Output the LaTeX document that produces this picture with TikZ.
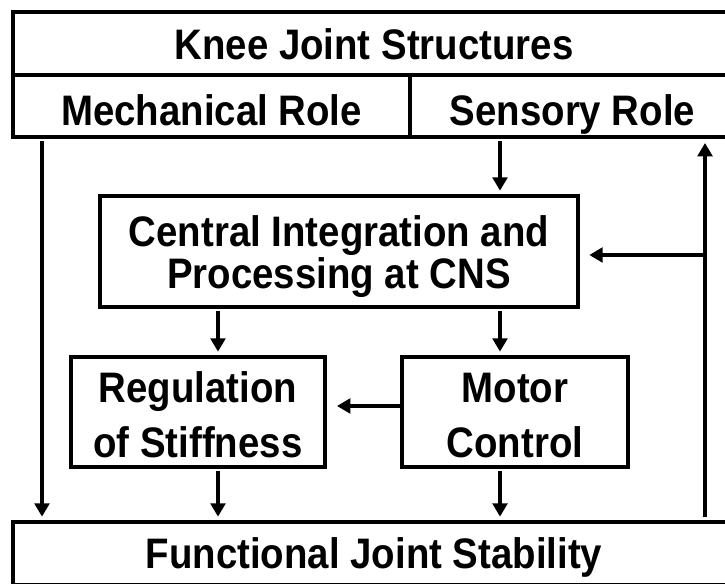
\documentclass[tikz,border=0pt]{standalone}
\usepackage{fontspec}
\setmainfont[FakeStretch=0.9]{Liberation Sans}
\usetikzlibrary{arrows.meta}
\begin{document}
\begin{tikzpicture}[x=0.75pt,y=-0.75pt,
  box/.style={draw, line width=3pt, inner sep=0pt, outer sep=0pt, align=center,
    font=\fontsize{32}{32}\selectfont\bfseries},
  twoline/.style={font=\fontsize{32}{41}\selectfont\bfseries},
  arr/.style={-{Triangle[length=10pt,width=11pt]}, line width=3pt},
  vshort/.style={shorten <=3pt, shorten >=4pt},
  hshort/.style={shorten >=8.5pt}]
\useasboundingbox (0,0) rectangle (725,584);

% header: structures and their two roles
\node[box, minimum width=541.5pt, minimum height=47.25pt, text height=23.5pt, text depth=0pt]
  (knee) at (374,43.5) {Knee Joint Structures};
\node[box, minimum width=297.75pt, minimum height=46.5pt, text height=29pt, text depth=0pt]
  (mech) at (211.5,106) {Mechanical Role};
\node[box, minimum width=243.75pt, minimum height=46.5pt, text height=29pt, text depth=0pt]
  (sens) at (572.5,106) {Sensory Role};

% processing blocks
\node[box, minimum width=358.5pt, minimum height=83.25pt]
  (cns) at (339,251.5) {\rule{0pt}{31pt}Central Integration and\\Processing at CNS};
\node[box, twoline, minimum width=190.5pt, minimum height=82.5pt]
  (reg) at (198,412) {\rule{0pt}{27pt}Regulation\\of Stiffness};
\node[box, twoline, minimum width=169.5pt, minimum height=82.5pt]
  (mot) at (515,412) {\rule{0pt}{27pt}Motor\\Control};

% outcome
\node[box, minimum width=541.5pt, minimum height=47.25pt, text height=23pt, text depth=0pt]
  (stab) at (374,553.5) {Functional Joint Stability};

% columns used by the connectors
\coordinate (colL) at (42,0);
\coordinate (colA) at (218,0);
\coordinate (colB) at (500,0);
\coordinate (colR) at (705,0);
\coordinate (fb) at (705,255);

% connectors
\draw[arr, vshort] (mech.south -| colL) -- (stab.north -| colL);
\draw[arr, vshort] (sens.south -| colB) -- (cns.north -| colB);
\draw[arr, vshort] (cns.south -| colA) -- (reg.north -| colA);
\draw[arr, vshort] (cns.south -| colB) -- (mot.north -| colB);
\draw[arr, vshort] (reg.south -| colA) -- (stab.north -| colA);
\draw[arr, vshort] (mot.south -| colB) -- (stab.north -| colB);
\draw[arr, shorten <=3.5pt, shorten >=4.5pt] (stab.north -| colR) -- (sens.south -| colR);
\draw[arr, hshort] (fb) -- (cns.east |- fb);
\draw[arr, shorten >=9pt] ([yshift=4.5pt]mot.west) -- ([yshift=4.5pt]reg.east);
\end{tikzpicture}
\end{document}
